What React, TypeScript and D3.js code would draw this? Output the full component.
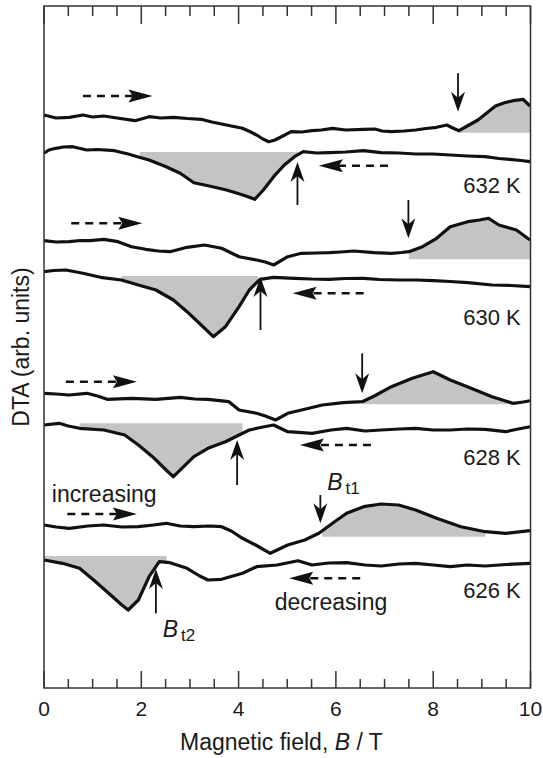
import React, { useEffect, useRef } from 'react'
import * as d3 from 'd3'

type Pt = [number, number]

const xTickLabels = [0, 2, 4, 6, 8, 10]

// DTA traces, [B in T, DTA in arb. units incl. vertical offset]
const inc632: Pt[] = [[0,57.3],[0.25,57.0],[0.52,57.07],[0.8,57.3],[1.0,57.1],[1.23,57.2],[1.5,57.0],[1.87,56.73],[2.0,56.9],[2.16,57.13],[2.4,57.0],[2.66,57.07],[2.95,56.95],[3.23,56.87],[3.45,56.6],[3.65,56.4],[3.85,56.2],[4.08,55.97],[4.25,55.6],[4.37,55.3],[4.5,54.9],[4.62,54.63],[4.75,54.8],[4.86,55.07],[5.08,55.63],[5.3,55.6],[5.51,55.73],[5.7,55.8],[5.93,55.97],[6.2,55.8],[6.57,55.87],[6.8,55.9],[6.95,55.7],[7.14,55.63],[7.4,55.7],[7.64,55.8],[7.85,55.95],[8.07,56.07],[8.28,56.3],[8.4,56.0],[8.53,55.73],[8.7,56.2],[8.92,56.8],[9.1,57.5],[9.28,58.2],[9.45,58.5],[9.64,58.73],[9.85,58.87],[9.99,58.2]]
const dec632: Pt[] = [[0,53.47],[0.1,53.8],[0.24,53.97],[0.4,54.1],[0.59,54.13],[0.88,53.8],[1.1,53.85],[1.45,53.73],[1.73,53.4],[1.94,53.1],[2.16,52.8],[2.51,52.13],[2.8,51.47],[3.08,50.53],[3.3,50.3],[3.51,50.07],[3.75,49.8],[3.94,49.53],[4.15,49.2],[4.33,48.87],[4.51,49.8],[4.72,51.13],[4.94,52.3],[5.15,53.13],[5.33,53.63],[5.6,53.5],[5.86,53.53],[6.2,53.6],[6.57,53.73],[6.93,53.53],[7.3,53.5],[7.64,53.4],[8.0,53.4],[8.35,53.3],[8.7,53.2],[9.07,53.13],[9.35,52.95],[9.57,52.87],[9.8,52.75],[9.99,52.63]]
const inc630: Pt[] = [[0,44.73],[0.25,44.6],[0.52,44.63],[0.75,44.75],[0.95,44.73],[1.23,44.87],[1.52,44.63],[1.8,44.13],[2.09,43.87],[2.35,43.7],[2.59,43.63],[2.94,44.07],[3.3,44.3],[3.65,43.97],[3.85,43.5],[4.01,43.13],[4.37,42.8],[4.55,42.6],[4.72,42.3],[5.01,43.13],[5.29,43.47],[5.6,43.5],[5.86,43.53],[6.1,43.6],[6.36,43.7],[6.79,43.53],[7.14,43.47],[7.35,43.55],[7.5,43.63],[7.78,44.13],[8.07,44.97],[8.35,46.13],[8.71,46.63],[8.95,46.8],[9.14,46.97],[9.35,46.3],[9.71,45.8],[9.99,44.8]]
const dec630: Pt[] = [[0,41.63],[0.2,41.75],[0.45,41.8],[0.8,41.47],[1.16,41.07],[1.59,40.8],[1.94,40.3],[2.3,39.8],[2.66,38.8],[2.94,37.63],[3.23,36.3],[3.48,35.13],[3.73,36.13],[4.01,38.13],[4.22,39.8],[4.44,40.87],[4.72,41.07],[5.15,40.97],[5.5,40.9],[5.86,40.87],[6.2,40.95],[6.57,40.97],[6.9,40.85],[7.29,40.8],[7.65,40.8],[8.0,40.73],[8.35,40.65],[8.71,40.53],[9.21,40.3],[9.6,40.25],[9.99,40.13]]
const inc628: Pt[] = [[0,29.47],[0.25,29.4],[0.52,29.3],[0.88,29.47],[1.1,29.2],[1.3,28.87],[1.8,28.97],[2.3,28.87],[2.8,29.07],[3.1,28.9],[3.37,28.87],[3.8,28.63],[4.01,27.8],[4.37,27.47],[4.55,27.2],[4.76,26.8],[5.01,27.47],[5.36,27.87],[5.72,28.3],[6.15,28.53],[6.54,28.63],[6.79,29.2],[7.14,30.13],[7.57,30.97],[8.0,31.63],[8.35,30.8],[8.78,29.97],[9.21,29.13],[9.64,28.47],[9.85,28.6],[9.99,28.73]]
const dec628: Pt[] = [[0,26.3],[0.31,26.47],[0.5,26.2],[0.73,25.97],[1.23,25.8],[1.66,25.3],[1.94,24.3],[2.23,23.13],[2.51,21.8],[2.66,21.13],[2.87,22.13],[3.08,23.13],[3.37,23.97],[3.73,24.63],[4.01,25.3],[4.22,25.8],[4.5,26.1],[4.72,26.3],[5.01,25.63],[5.51,25.47],[5.9,25.8],[6.22,25.97],[6.6,25.7],[6.93,25.8],[7.3,25.9],[7.64,25.97],[8.0,25.8],[8.35,25.8],[8.7,25.9],[9.07,25.87],[9.49,25.63],[9.75,25.9],[9.99,26.13]]
const inc626: Pt[] = [[0,16.3],[0.25,16.1],[0.52,15.97],[0.9,16.2],[1.23,16.3],[1.6,16.1],[1.94,16.13],[2.25,16.3],[2.51,16.47],[2.8,16.2],[3.08,16.13],[3.4,16.2],[3.65,16.13],[3.85,15.7],[4.08,14.97],[4.35,14.3],[4.65,13.47],[5.01,14.3],[5.36,14.8],[5.65,15.47],[5.93,16.47],[6.22,17.47],[6.57,18.13],[6.93,18.4],[7.29,18.3],[7.64,17.8],[8.07,16.97],[8.57,16.13],[9.07,15.63],[9.49,15.47],[9.99,15.73]]
const dec626: Pt[] = [[0,12.8],[0.38,12.47],[0.73,11.97],[1.02,10.8],[1.37,9.3],[1.6,8.3],[1.73,7.8],[1.94,8.8],[2.16,11.13],[2.37,12.63],[2.59,12.53],[2.94,11.97],[3.2,11.2],[3.37,10.8],[3.65,10.87],[4.08,11.47],[4.37,12.13],[4.79,12.3],[5.22,12.73],[5.51,12.3],[5.85,12.5],[6.22,12.53],[6.6,12.3],[6.93,12.2],[7.3,12.4],[7.64,12.47],[8.0,12.3],[8.35,12.13],[8.7,12.3],[9.07,12.2],[9.5,12.35],[9.99,12.47]]

const traces = [inc632, dec632, inc630, dec630, inc628, dec628, inc626, dec626]

// shaded peaks: [trace index, B from, B to, baseline]
const shaded: [number, number, number, number][] = [
  [0, 8.53, 10, 55.53], [1, 1.97, 5.22, 53.6],
  [2, 7.5, 10, 42.87], [3, 1.59, 4.4, 41.2],
  [4, 6.54, 9.71, 28.37], [5, 0.73, 4.08, 26.47],
  [6, 5.72, 9.07, 15.13], [7, 0, 2.52, 13.2],
]

// transition markers: [B, tail, tip]
const transArrows: [number, number, number][] = [
  [8.51, 61.47, 57.63], [5.21, 48.3, 52.6],
  [7.49, 48.8, 44.97], [4.45, 35.8, 41.1],
  [6.54, 33.47, 29.47], [3.97, 20.3, 24.8],
  [5.68, 19.3, 16.47], [2.3, 7.47, 11.9],
]

// sweep direction: [B tail, B tip, level]
const sweepArrows: [number, number, number][] = [
  [0.8, 2.23, 59.2], [7.07, 5.65, 52.23],
  [0.56, 2.02, 46.47], [6.57, 5.11, 39.47],
  [0.45, 1.91, 30.63], [6.72, 5.26, 24.3],
  [0.48, 1.91, 17.4], [6.5, 5.04, 10.97],
]

const tempLabels: [string, number, number][] = [
  ['632 K', 9.8, 49.5], ['630 K', 9.8, 36.3], ['628 K', 9.8, 22.3], ['626 K', 9.8, 8.97],
]

const FONT = '"Liberation Sans", Arial, Helvetica, sans-serif'

export default function App() {
  const ref = useRef<SVGSVGElement>(null)

  useEffect(() => {
    const svg = d3.select(ref.current)
    svg.selectAll('*').remove()

    const x = d3.scaleLinear().domain([0, 10]).range([44, 530.5])
    const y = d3.scaleLinear().domain([0, 68.2]).range([688, 6])
    const [x0, x1] = x.range()
    const [yb, yt] = y.range()

    const g = svg.append('g').style('font-family', FONT).attr('fill', '#1a1a1a')

    const defs = svg.append('defs')
    shaded.forEach((s, i) => {
      defs.append('clipPath').attr('id', `clip${i}`)
        .append('rect')
        .attr('x', x(s[1])).attr('width', x(s[2]) - x(s[1]))
        .attr('y', yt).attr('height', yb - yt)
    })

    shaded.forEach((s, i) => {
      const area = d3.area<Pt>().x(d => x(d[0])).y0(y(s[3])).y1(d => y(d[1]))
      g.append('path')
        .attr('d', area(traces[s[0]]))
        .attr('clip-path', `url(#clip${i})`)
        .attr('fill', '#c4c4c4')
    })

    const line = d3.line<Pt>().x(d => x(d[0])).y(d => y(d[1]))
    traces.forEach(t => {
      g.append('path')
        .attr('d', line(t))
        .attr('fill', 'none')
        .attr('stroke', '#111')
        .attr('stroke-width', 3.2)
        .attr('stroke-linejoin', 'round')
    })

    transArrows.forEach(([b, tail, tip]) => {
      const px = x(b), ty = y(tip), fy = y(tail)
      const d = ty > fy ? 1 : -1
      g.append('line')
        .attr('x1', px).attr('x2', px).attr('y1', fy).attr('y2', ty - d * 10)
        .attr('stroke', '#111').attr('stroke-width', 1.8)
      g.append('path')
        .attr('d', `M${px},${ty}L${px - 7},${ty - d * 20}L${px},${ty - d * 14}L${px + 7},${ty - d * 20}Z`)
        .attr('fill', '#111')
    })

    sweepArrows.forEach(([bt, bh, v]) => {
      const tx = x(bh), fx = x(bt), py = y(v)
      const d = tx > fx ? 1 : -1
      g.append('line')
        .attr('x1', fx).attr('x2', tx - d * 20).attr('y1', py).attr('y2', py)
        .attr('stroke', '#111').attr('stroke-width', 2.6)
        .attr('stroke-dasharray', '8,6')
      g.append('path')
        .attr('d', `M${tx},${py}L${tx - d * 24},${py - 6.5}L${tx - d * 20},${py}L${tx - d * 24},${py + 6.5}Z`)
        .attr('fill', '#111')
    })

    tempLabels.forEach(([t, b, v]) => {
      g.append('text').attr('x', x(b)).attr('y', y(v))
        .attr('text-anchor', 'end').style('font-size', '22px').text(t)
    })

    g.append('text').attr('x', x(0.16)).attr('y', y(18.63))
      .style('font-size', '23px').text('increasing')
    g.append('text').attr('x', x(5.9)).attr('y', y(7.8))
      .attr('text-anchor', 'middle').style('font-size', '23px').text('decreasing')

    const sub = (b: number, v: number, s: string) => {
      const t = g.append('text').attr('x', x(b)).attr('y', y(v)).style('font-size', '23px')
      t.append('tspan').style('font-style', 'italic').text('B')
      t.append('tspan').attr('dx', 3).attr('dy', 4).style('font-size', '17px').text(s)
    }
    sub(5.82, 19.8, 't1')
    sub(2.44, 5.07, 't2')

    // frame + ticks
    const minor = x.ticks(20)
    const ax = g.append('g').attr('stroke', '#333').attr('stroke-width', 1.5)
    ax.append('rect').attr('x', x0).attr('y', yt).attr('width', x1 - x0).attr('height', yb - yt)
      .attr('fill', 'none')
    minor.forEach(v => {
      const major = xTickLabels.includes(v)
      ax.append('line').attr('x1', x(v)).attr('x2', x(v))
        .attr('y1', yb).attr('y2', yb - (major ? 17 : 9))
      ax.append('line').attr('x1', x(v)).attr('x2', x(v))
        .attr('y1', yt).attr('y2', yt + (major ? 18 : 10))
    })

    xTickLabels.forEach(v => {
      g.append('text').attr('x', x(v)).attr('y', 716)
        .attr('text-anchor', 'middle').style('font-size', '21px').text(v)
    })

    const xt = g.append('text').attr('x', x(4.88)).attr('y', 750)
      .attr('text-anchor', 'middle').style('font-size', '23px')
    xt.append('tspan').text('Magnetic field, ')
    xt.append('tspan').style('font-style', 'italic').text('B')
    xt.append('tspan').text(' / T')

    g.append('text')
      .attr('transform', `translate(29,${(yt + yb) / 2}) rotate(-90)`)
      .attr('text-anchor', 'middle').style('font-size', '23px')
      .text('DTA (arb. units)')
  }, [])

  return (
    <svg ref={ref} width={543} height={758}
      style={{ position: 'absolute', left: 0, top: 0, background: '#fff' }} />
  )
}
